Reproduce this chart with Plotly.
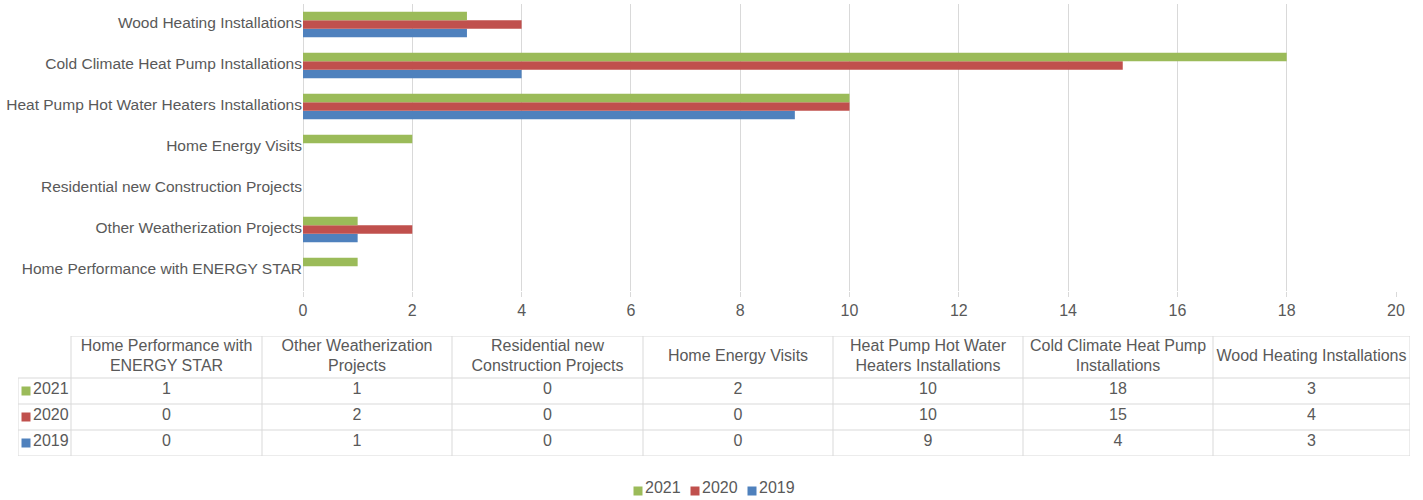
import plotly.graph_objects as go

# ---- data ----
categories = [
    "Home Performance with ENERGY STAR",
    "Other Weatherization Projects",
    "Residential new Construction Projects",
    "Home Energy Visits",
    "Heat Pump Hot Water Heaters Installations",
    "Cold Climate Heat Pump Installations",
    "Wood Heating Installations",
]
header_labels = [
    "Home Performance with<br>ENERGY STAR",
    "Other Weatherization<br>Projects",
    "Residential new<br>Construction Projects",
    "Home Energy Visits",
    "Heat Pump Hot Water<br>Heaters Installations",
    "Cold Climate Heat Pump<br>Installations",
    "Wood Heating Installations",
]
years = ["2021", "2020", "2019"]
values_2021 = [1, 1, 0, 2, 10, 18, 3]
values_2020 = [0, 2, 0, 0, 10, 15, 4]
values_2019 = [0, 1, 0, 0, 9, 4, 3]
x_ticks = [0, 2, 4, 6, 8, 10, 12, 14, 16, 18, 20]

colors = {"2021": "#9BBB59", "2020": "#C0504D", "2019": "#4F81BD"}
series = {"2021": values_2021, "2020": values_2020, "2019": values_2019}

W, H = 1423, 500
FONT = "Liberation Sans, Arial, Helvetica, sans-serif"
GRAY = "#595959"
GRID = "#D9D9D9"
FS = 16

fig = go.Figure()

# bars: first trace sits at the bottom of each group, so add 2019 first
for yr in ["2019", "2020", "2021"]:
    fig.add_trace(go.Bar(
        y=categories, x=series[yr], name=yr, orientation="h",
        marker=dict(color=colors[yr], line=dict(width=0)),
        xaxis="x", yaxis="y", hoverinfo="x+name", showlegend=False,
    ))

# ---- data table drawn on its own (hidden) axes, units = pixels ----
col_w = [53, 191, 190, 191, 190, 190, 190, 197]
row_h = [42, 26, 26, 26]
col_edges = [0]
for w in col_w:
    col_edges.append(col_edges[-1] + w)
row_edges = [0]
for h in row_h:
    row_edges.append(row_edges[-1] + h)
col_centers = [(col_edges[i] + col_edges[i + 1]) / 2 for i in range(len(col_w))]
row_centers = [(row_edges[i] + row_edges[i + 1]) / 2 for i in range(len(row_h))]
TW, TH = col_edges[-1], row_edges[-1]

common = dict(xaxis="x2", yaxis="y2", showlegend=False, hoverinfo="skip", cliponaxis=False)
txtfont = dict(family=FONT, size=FS, color=GRAY)

# header texts
fig.add_trace(go.Scatter(
    x=col_centers[1:], y=[row_centers[0]] * len(header_labels),
    text=header_labels, mode="text", textposition="middle center",
    textfont=txtfont, **common,
))
# cell values
cx, cy, ct = [], [], []
for r, yr in enumerate(years):
    for c, v in enumerate(series[yr]):
        cx.append(col_centers[c + 1])
        cy.append(row_centers[r + 1] - 1)
        ct.append(str(v))
fig.add_trace(go.Scatter(
    x=cx, y=cy, text=ct, mode="text", textposition="middle center",
    textfont=txtfont, **common,
))
# row labels with colour keys
fig.add_trace(go.Scatter(
    x=[8] * len(years), y=[c for c in row_centers[1:]],
    mode="markers", marker=dict(symbol="square", size=9, color=[colors[y] for y in years]),
    **common,
))
fig.add_trace(go.Scatter(
    x=[15] * len(years), y=[c - 1 for c in row_centers[1:]],
    text=years, mode="text", textposition="middle right",
    textfont=txtfont, **common,
))

# ---- legend at the bottom (hidden axes x3/y3, pixel units) ----
leg_start, leg_step = 638, 57
leg_x = [leg_start + i * leg_step for i in range(len(years))]
fig.add_trace(go.Scatter(
    x=leg_x, y=[491] * len(years), mode="markers",
    marker=dict(symbol="square", size=9, color=[colors[y] for y in years]),
    xaxis="x3", yaxis="y3", showlegend=False, hoverinfo="skip", cliponaxis=False,
))
fig.add_trace(go.Scatter(
    x=[x + 7 for x in leg_x], y=[489] * len(years), text=years,
    mode="text", textposition="middle right", textfont=txtfont,
    xaxis="x3", yaxis="y3", showlegend=False, hoverinfo="skip", cliponaxis=False,
))

shapes = []
line = dict(color=GRID, width=1)
shapes.append(dict(type="line", xref="x2", yref="y2", x0=col_edges[1], x1=TW, y0=0, y1=0, line=line))
for ye in row_edges[1:]:
    shapes.append(dict(type="line", xref="x2", yref="y2", x0=0, x1=TW, y0=ye, y1=ye, line=line))
shapes.append(dict(type="line", xref="x2", yref="y2", x0=0, x1=0, y0=row_edges[1], y1=TH, line=line))
for xe in col_edges[1:]:
    shapes.append(dict(type="line", xref="x2", yref="y2", x0=xe, x1=xe, y0=0, y1=TH, line=line))

fig.update_layout(
    width=W, height=H,
    margin=dict(l=0, r=0, t=0, b=0, autoexpand=False),
    paper_bgcolor="white", plot_bgcolor="rgba(0,0,0,0)",
    barmode="group", bargap=0.38, bargroupgap=0,
    font=dict(family=FONT, size=FS, color=GRAY),
    shapes=shapes,
    showlegend=False,
    xaxis=dict(
        domain=[303 / W, 1396 / W], range=[0, 20],
        tickvals=x_ticks, ticktext=[str(t) for t in x_ticks],
        showgrid=True, gridcolor=GRID, gridwidth=1,
        zeroline=True, zerolinecolor=GRID, zerolinewidth=1,
        ticks="outside", ticklen=5, tickcolor=GRID,
        showline=False, anchor="y", automargin=False,
        tickfont=dict(family=FONT, size=FS, color=GRAY),
    ),
    yaxis=dict(
        domain=[1 - 291 / H, 1 - 4 / H],
        categoryorder="array", categoryarray=categories,
        showgrid=False, zeroline=False, showline=False,
        ticks="", automargin=False, ticklabelshift=-2,
        tickfont=dict(family=FONT, size=15.5, color=GRAY),
        anchor="x",
    ),
    xaxis2=dict(domain=[18 / W, 1410 / W], range=[0, TW], visible=False,
                anchor="y2", fixedrange=True),
    yaxis2=dict(domain=[1 - 456 / H, 1 - 336 / H], range=[TH, 0], visible=False,
                anchor="x2", fixedrange=True),
    xaxis3=dict(domain=[0, 1], range=[0, W], visible=False, anchor="y3", fixedrange=True),
    yaxis3=dict(domain=[0, 24 / H], range=[500, 476], visible=False, anchor="x3", fixedrange=True),
)

fig.write_html("out.html", config={"displayModeBar": False},
               post_script="document.body.style.margin='0';")
